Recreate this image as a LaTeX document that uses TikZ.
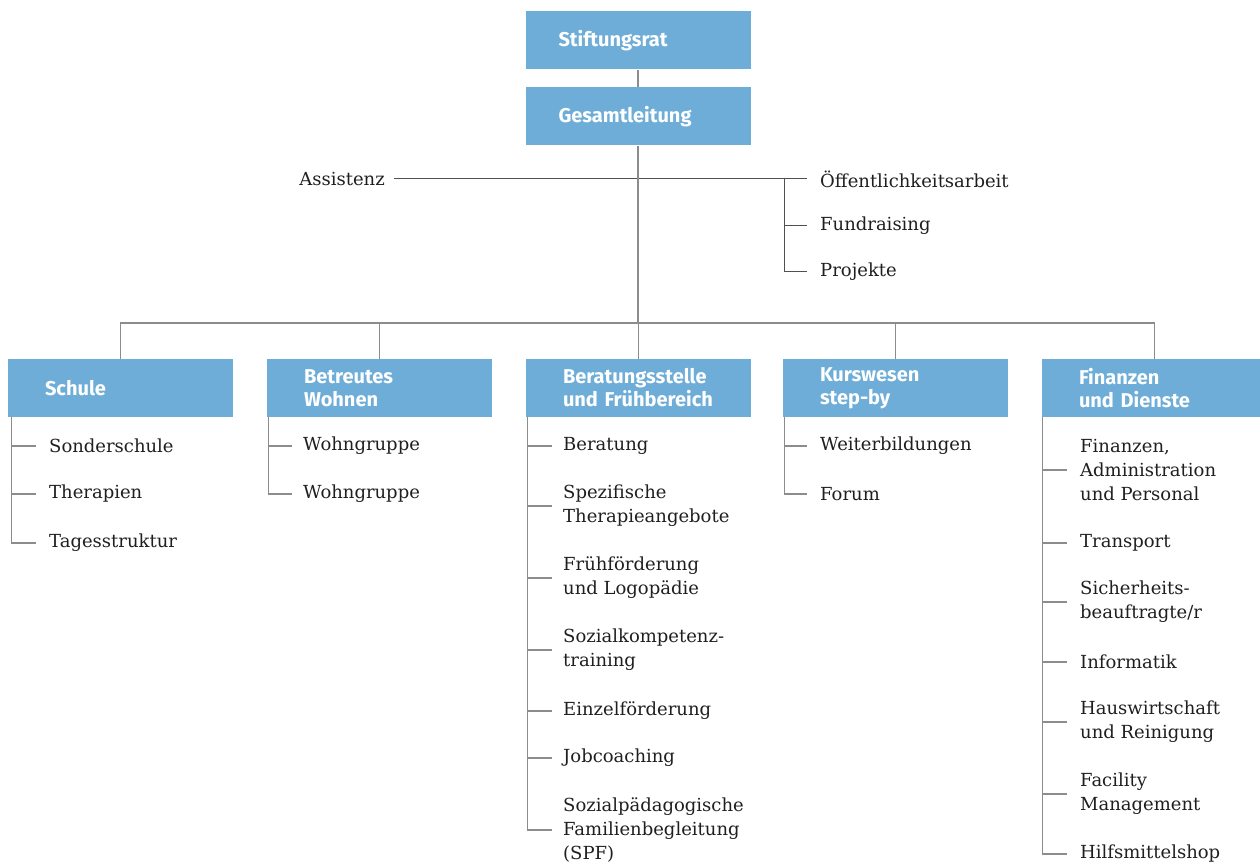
\documentclass[tikz,border=0pt]{standalone}
\usepackage{fontspec}
\setmainfont{DejaVu Serif}
\newfontfamily\titlefont{Fira Sans}
\definecolor{boxblue}{RGB}{110,173,216}
\definecolor{linegray}{RGB}{140,140,140}
\definecolor{darkline}{RGB}{80,80,80}
\begin{document}
\begin{tikzpicture}[x=1pt,y=-1pt,
  orgbox/.style={fill=boxblue, minimum width=225pt, minimum height=58pt, inner xsep=37pt, inner ysep=0pt,
    text width=151pt, align=left, text=white, font=\titlefont\bfseries\fontsize{20}{23}\selectfont},
  item/.style={anchor=west, inner sep=0pt, align=left, font=\fontsize{18}{24}\selectfont, text=black!88},
  conn/.style={draw=linegray, line width=1.3pt},
  thin/.style={draw=darkline, line width=1pt}]
\useasboundingbox (0,0) rectangle (1260,866);

% top
\node[orgbox, inner xsep=33pt, text width=159pt] (stift) at (638,40.5) {Stiftungsrat};
\node[orgbox, inner xsep=33pt, text width=159pt] (gesamt) at (638,116.5) {Gesamtleitung};
\draw[conn] (stift.south) -- (gesamt.north);

% staff line
\node[item, anchor=east] (assist) at (385,179) {Assistenz};
\node[item] (oeff) at (820,179) {Öffentlichkeitsarbeit};
\node[item] (fund) at (820,226) {Fundraising};
\node[item] (proj) at (820,272) {Projekte};
\draw[thin] ([xshift=9pt]assist.east) -- ([xshift=-13pt]oeff.west);
\coordinate (rv) at (784,179);
\draw[thin] (rv) |- ([xshift=-13pt]proj.west);
\draw[thin] (rv |- fund.west) -- ([xshift=-13pt]fund.west);

% departments
\node[orgbox] (schule) at (120.5,388) {Schule};
\node[orgbox] (betreut) at (379.5,388) {Betreutes\\Wohnen};
\node[orgbox] (berat) at (638.5,388) {Beratungsstelle\\und Frühbereich};
\node[orgbox] (kurs) at (895.5,388) {Kurswesen\\step-by};
\node[orgbox] (fin) at (1154.5,388) {Finanzen\\und Dienste};

\coordinate (bar) at (642,323);
\draw[conn] (gesamt.south) -- (gesamt.south |- bar);
\draw[conn] (schule.north) |- (bar) -| (fin.north);
\draw[conn] (betreut.north) -- (betreut.north |- bar);
\draw[conn] (berat.north) -- (berat.north |- bar);
\draw[conn] (kurs.north) -- (kurs.north |- bar);

% Schule
\node[item] (s1) at (49,446) {Sonderschule};
\node[item] (s2) at (49,494) {Therapien};
\node[item] (s3) at (49,543) {Tagesstruktur};
\coordinate (sv) at ([xshift=4pt]schule.south west);
\draw[conn] (sv) |- ([xshift=-13pt]s3.west);
\foreach \n in {s1,s2} \draw[conn] (sv |- \n.west) -- ([xshift=-13pt]\n.west);

% Betreutes Wohnen
\node[item] (b1) at (303,446) {Wohngruppe};
\node[item] (b2) at (303,494) {Wohngruppe};
\coordinate (bv) at ([xshift=2pt]betreut.south west);
\draw[conn] (bv) |- ([xshift=-11pt]b2.west);
\draw[conn] (bv |- b1.west) -- ([xshift=-11pt]b1.west);

% Beratungsstelle
\node[item] (r1) at (563,446) {Beratung};
\node[item] (r2) at (563,506) {Spezifische\\Therapieangebote};
\node[item] (r3) at (563,578) {Frühförderung\\und Logopädie};
\node[item] (r4) at (563,650) {Sozialkompetenz-\\training};
\node[item] (r5) at (563,711) {Einzelförderung};
\node[item] (r6) at (563,758) {Jobcoaching};
\node[item] (r7) at (563,830) {Sozialpädagogische\\Familienbegleitung\\(SPF)};
\coordinate (rv2) at ([xshift=2pt]berat.south west);
\draw[conn] (rv2) |- ([xshift=-11pt]r7.west);
\foreach \n in {r1,r2,r3,r4,r5,r6} \draw[conn] (rv2 |- \n.west) -- ([xshift=-11pt]\n.west);

% Kurswesen
\node[item] (k1) at (820,446) {Weiterbildungen};
\node[item] (k2) at (820,494) {Forum};
\coordinate (kv) at ([xshift=2pt]kurs.south west);
\draw[conn] (kv) |- ([xshift=-13pt]k2.west);
\draw[conn] (kv |- k1.west) -- ([xshift=-13pt]k1.west);

% Finanzen
\node[item] (f1) at (1080,470) {Finanzen,\\Administration\\und Personal};
\node[item] (f2) at (1080,543) {Transport};
\node[item] (f3) at (1080,602) {Sicherheits-\\beauftragte/r};
\node[item] (f4) at (1080,662) {Informatik};
\node[item] (f5) at (1080,722) {Hauswirtschaft\\und Reinigung};
\node[item] (f6) at (1080,794) {Facility\\Management};
\node[item] (f7) at (1080,854) {Hilfsmittelshop};
\coordinate (fv) at ([xshift=1pt]fin.south west);
\draw[conn] (fv) |- ([xshift=-13pt]f7.west);
\foreach \n in {f1,f2,f3,f4,f5,f6} \draw[conn] (fv |- \n.west) -- ([xshift=-13pt]\n.west);
\end{tikzpicture}
\end{document}
